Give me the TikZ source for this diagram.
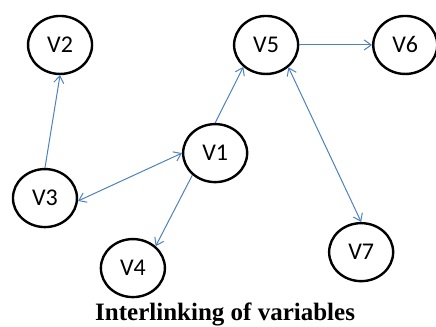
\documentclass[tikz,border=0pt]{standalone}
\usepackage{fontspec}
\setmainfont{Carlito}
\newfontfamily\captionfont{Liberation Serif}
\usepackage{xcolor}
\usepackage{tikz}
\usetikzlibrary{shapes.geometric,arrows.meta}

\definecolor{linkblue}{RGB}{79,129,189}

\begin{document}
\begin{tikzpicture}[thick,
    var/.style={draw, ellipse, line width=2.4pt, minimum width=64pt, minimum height=58pt, inner sep=0pt, font=\fontsize{24}{28}\selectfont},
    link/.style={draw=linkblue, line width=1pt, -{Straight Barb[length=7pt,width=10pt]}},
    both/.style={link, {Straight Barb[length=7pt,width=10pt]}-{Straight Barb[length=7pt,width=10pt]}}]
    \useasboundingbox (0,0) rectangle (15.32,11.46);

    \node [var] (v2) at (2.11,9.88) {V2};
    \node [var] (v5) at (9.35,9.88) {V5};
    \node [var] (v6) at (14.24,9.88) {V6};
    \node [var] (v1) at (7.56,6.08) {V1};
    \node [var] (v3) at (1.58,4.50) {V3};
    \node [var] (v4) at (4.67,2.04) {V4};
    \node [var] (v7) at (12.69,2.60) {V7};

    \draw [link] (v3.north) -- (v2.south);
    \draw [both] (v3.355) -- (v1.west);
    \draw [link] (v1.north) -- (v5.224);
    \draw [link] (v1.224) -- (v4.44);
    \draw [link] (v5.east) -- (v6.west);
    \draw [both] (v5.315) -- (v7.north);

    \node [anchor=base, font=\captionfont\bfseries\fontsize{25}{28}\selectfont, inner sep=0pt] (cap) at (7.91,0.21) {Interlinking of variables};
\end{tikzpicture}
\end{document}
